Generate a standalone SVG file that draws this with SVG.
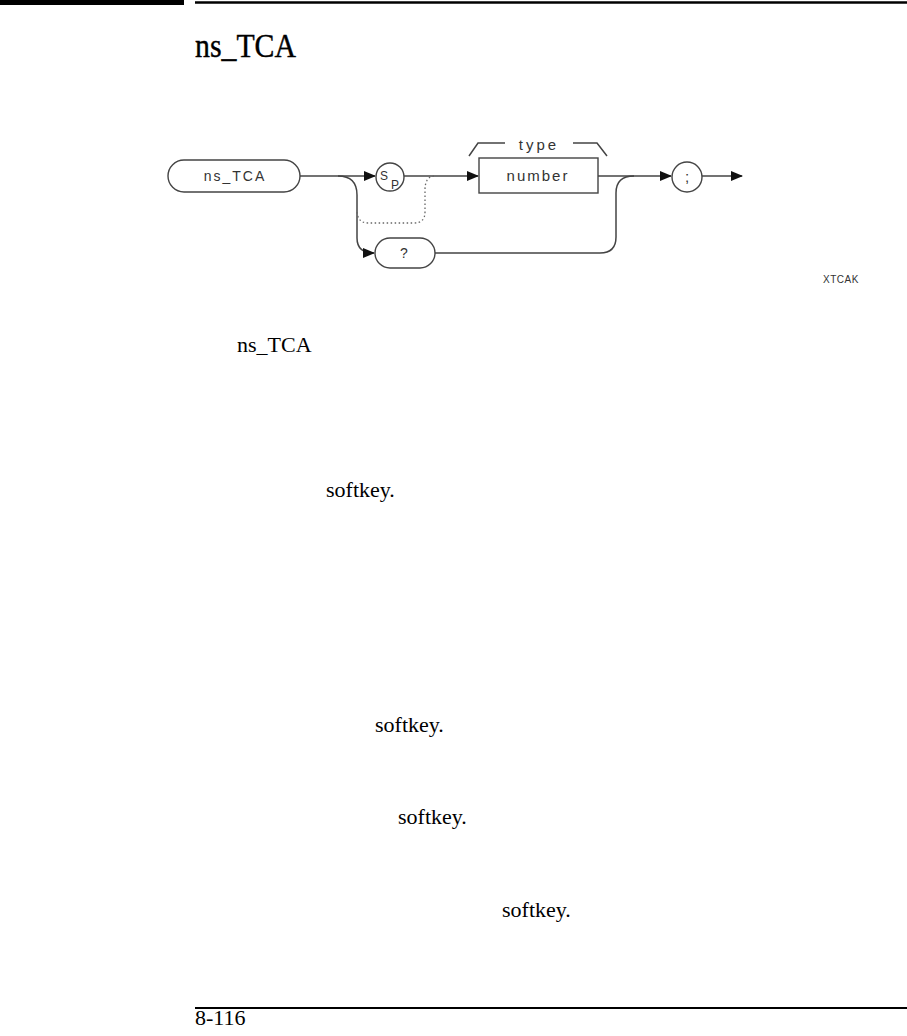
<svg xmlns="http://www.w3.org/2000/svg" width="907" height="1036" viewBox="0 0 907 1036">
<style>
.ln{fill:none;stroke:#444;stroke-width:1.5}
.nd{fill:#fff;stroke:#444;stroke-width:1.4}
.dg{font-family:"Liberation Sans",Arial,sans-serif;fill:#333;font-size:14px;letter-spacing:2px;text-anchor:middle}
.body{font-family:"Liberation Serif","Times New Roman",serif;fill:#000;font-size:22px}
.dot{fill:none;stroke:#666;stroke-width:1.3;stroke-dasharray:1.5 2.5}
</style>
<defs>
<marker id="ah" markerWidth="12" markerHeight="10" refX="11" refY="5" orient="auto" markerUnits="userSpaceOnUse">
<path d="M0,0 L12,5 L0,10 Z" fill="#111"/>
</marker>
</defs>
<rect x="0" y="0" width="184" height="5" fill="#000"/>
<line x1="195" y1="2.5" x2="907" y2="2.5" stroke="#000" stroke-width="2.5"/>
<text x="195" y="57" font-family="'Liberation Serif','Times New Roman',serif" font-size="33" fill="#000" stroke="#000" stroke-width="0.4" textLength="101" lengthAdjust="spacingAndGlyphs">ns_TCA</text>
<g id="connectors">
<path class="ln" d="M300,176 H375" marker-end="url(#ah)"/>
<path class="ln" d="M404,176 H478" marker-end="url(#ah)"/>
<path class="ln" d="M598,176 H671" marker-end="url(#ah)"/>
<path class="ln" d="M702,176 H742" marker-end="url(#ah)"/>
<path class="ln" d="M338,176 Q357,176 357,195 V238 Q357,253 374,253" marker-end="url(#ah)"/>
<path class="ln" d="M435,253 H600 Q616,253 616,237 V193 Q616,176 634,176"/>
<path class="dot" d="M434,176 Q425,177 425,190 V212 Q425,223 414,223 H368 Q358,223 357,212"/>
<path class="ln" d="M469,156 L478,143 H505 M573,143 H597 L607,156"/>
<text class="dg" x="539" y="150" style="font-size:15px;letter-spacing:3px">type</text>
</g>
<g id="node-nsTCA">
<rect class="nd" x="168" y="160" width="132" height="32" rx="16"/>
<text class="dg" x="235" y="181">ns_TCA</text>
</g>
<g id="node-sp">
<circle class="nd" cx="390" cy="177" r="14"/>
<text x="384" y="180" font-family="'Liberation Sans',Arial,sans-serif" font-size="12" fill="#333" text-anchor="middle">S</text>
<text x="395" y="189" font-family="'Liberation Sans',Arial,sans-serif" font-size="12" fill="#333" text-anchor="middle">P</text>
</g>
<g id="node-number">
<rect class="nd" x="479" y="158" width="119" height="35"/>
<text class="dg" x="538" y="181" style="font-size:15px">number</text>
</g>
<g id="node-semicolon">
<circle class="nd" cx="687" cy="177" r="15"/>
<text x="687" y="182" font-family="'Liberation Sans',Arial,sans-serif" font-size="15" fill="#333" text-anchor="middle">;</text>
</g>
<g id="node-query">
<rect class="nd" x="375" y="238" width="60" height="30" rx="15"/>
<text class="dg" x="405" y="258">?</text>
</g>
<text x="823" y="283" font-family="'Liberation Sans',Arial,sans-serif" font-size="10" fill="#333" letter-spacing="0.5">XTCAK</text>
<text class="body" x="237" y="352">ns_TCA</text>
<text class="body" x="326" y="497">softkey.</text>
<text class="body" x="375" y="732">softkey.</text>
<text class="body" x="398" y="824">softkey.</text>
<text class="body" x="502" y="917">softkey.</text>
<line x1="195" y1="1008" x2="907" y2="1008" stroke="#000" stroke-width="2"/>
<text class="body" x="195" y="1025">8-116</text>
</svg>
